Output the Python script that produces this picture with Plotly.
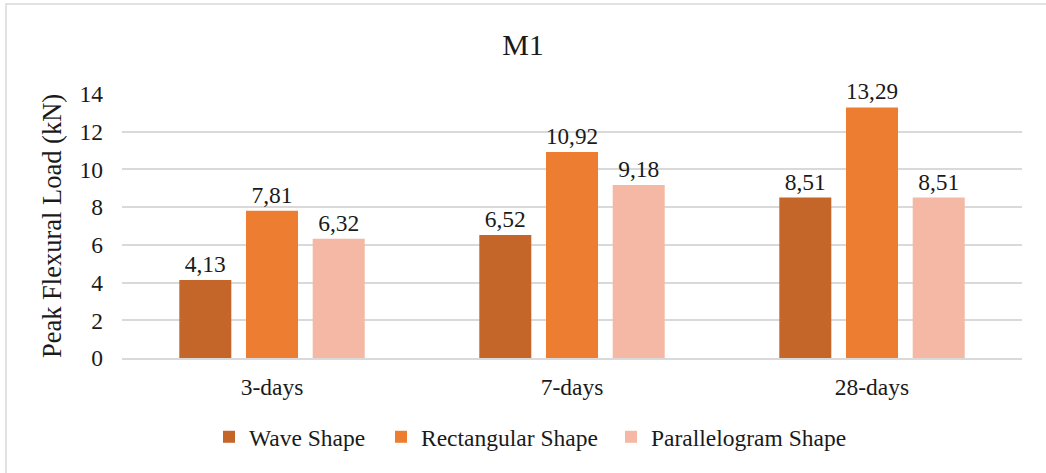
import plotly.graph_objects as go

# Peak flexural load per curing age and specimen shape
categories = ["3-days", "7-days", "28-days"]
wave_shape = [4.13, 6.52, 8.51]
rectangular_shape = [7.81, 10.92, 13.29]
parallelogram_shape = [6.32, 9.18, 8.51]

series_names = ["Wave Shape", "Rectangular Shape", "Parallelogram Shape"]
series_values = [wave_shape, rectangular_shape, parallelogram_shape]
series_colors = ["#C46529", "#ED7D31", "#F4B8A4"]

y_ticks = [0, 2, 4, 6, 8, 10, 12, 14]

SERIF = "Times New Roman"
INK = "#1a1a1a"
GRID = "#D9D9D9"

# plot-area geometry (px) used to place paper-referenced items
PLOT_L, PLOT_W = 122, 900
PLOT_B, PLOT_H = 358, 264


def px_x(px):
    return (px - PLOT_L) / PLOT_W


def px_y(px):
    return (PLOT_B - px) / PLOT_H


def serif(size):
    return dict(family=SERIF, size=size, color=INK)


legend_ids = ["legend", "legend2", "legend3"]
legend_left_px = [209, 381, 611]

fig = go.Figure()
for name, vals, color, lg in zip(series_names, series_values, series_colors, legend_ids):
    fig.add_trace(go.Bar(
        name=name,
        x=categories,
        y=vals,
        legend=lg,
        marker=dict(color=color, line=dict(width=0)),
        texttemplate="%{y:.2f}",
        textposition="outside",
        textfont=serif(23.5),
        outsidetextfont=serif(23.5),
        cliponaxis=False,
    ))

legend_common = dict(
    orientation="h",
    yanchor="middle",
    y=px_y(437),
    xanchor="left",
    font=serif(23.5),
    itemwidth=30,
    bgcolor="rgba(0,0,0,0)",
)

fig.update_layout(
    width=1046,
    height=473,
    margin=dict(l=PLOT_L, r=1046 - PLOT_L - PLOT_W, t=PLOT_B - PLOT_H, b=473 - PLOT_B),
    paper_bgcolor="white",
    plot_bgcolor="white",
    separators=",.",
    barmode="group",
    bargap=0.333,
    bargroupgap=0.22,
    font=serif(23.5),
    title=dict(
        text="M1",
        x=0.5, xanchor="center",
        y=0.905, yanchor="middle",
        font=serif(30),
    ),
    legend=dict(x=px_x(legend_left_px[0]), **legend_common),
    legend2=dict(x=px_x(legend_left_px[1]), **legend_common),
    legend3=dict(x=px_x(legend_left_px[2]), **legend_common),
    showlegend=True,
)

fig.update_yaxes(
    range=[0, 14],
    tickvals=y_ticks,
    showgrid=True,
    gridcolor=GRID,
    gridwidth=1.5,
    zeroline=False,
    showline=False,
    ticks="",
    ticklabelstandoff=18,
    tickfont=serif(23.5),
    title=dict(text="Peak Flexural Load (kN)", font=serif(26.5), standoff=10),
)
fig.update_xaxes(
    showline=True,
    linecolor=GRID,
    linewidth=1.5,
    ticks="outside",
    ticklen=7,
    tickcolor="rgba(0,0,0,0)",
    tickfont=serif(23.5),
)

# Chart-area outline
fig.add_shape(
    type="rect",
    xref="paper", yref="paper",
    x0=px_x(6), x1=px_x(1060),
    y0=px_y(490), y1=px_y(4),
    line=dict(color=GRID, width=1.5),
    fillcolor="rgba(0,0,0,0)",
    layer="below",
)

fig.write_html("out.html")
